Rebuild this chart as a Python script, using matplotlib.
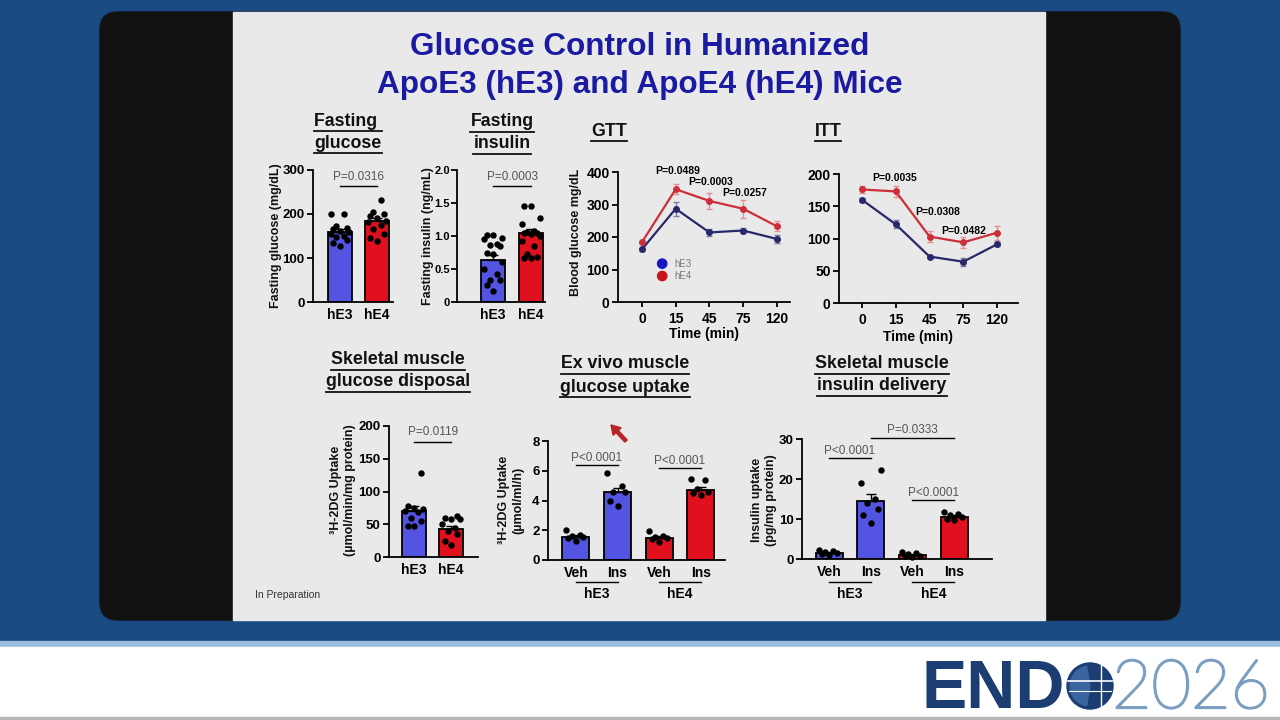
import numpy as np
import matplotlib
matplotlib.use("Agg")
import matplotlib.pyplot as plt
import matplotlib.patheffects as pe
from matplotlib.patches import FancyBboxPatch, Rectangle, Circle, Wedge

plt.rcParams['font.family'] = ['Liberation Sans', 'DejaVu Sans']
plt.rcParams['font.weight'] = 'bold'

W, H = 1280, 720

# ---- data ----
geno = ["hE3", "hE4"]
treat = ["Veh", "Ins", "Veh", "Ins"]
times = ["0", "15", "45", "75", "120"]

fg_mean = [160, 183]
fg_sem = [6, 8]
fg_hE3 = [200, 200, 172, 168, 165, 162, 158, 155, 150, 148, 140, 135, 128]
fg_hE4 = [232, 205, 200, 195, 190, 185, 182, 175, 165, 155, 145, 138]

fi_mean = [0.64, 1.05]
fi_sem = [0.07, 0.05]
fi_hE3 = [1.02, 0.97, 0.96, 1.01, 0.87, 0.85, 0.88, 0.75, 0.72, 0.60, 0.50, 0.42, 0.34, 0.33, 0.26, 0.16]
fi_hE4 = [1.46, 1.45, 1.28, 1.18, 1.08, 1.06, 1.05, 1.04, 1.03, 1.00, 0.93, 0.85, 0.72, 0.68, 0.67, 0.66]

gtt_hE3 = [162, 287, 214, 220, 194]
gtt_hE3_sem = [5, 22, 10, 8, 12]
gtt_hE4 = [184, 347, 311, 287, 233]
gtt_hE4_sem = [5, 15, 25, 27, 15]
gtt_p = ["P=0.0489", "P=0.0003", "P=0.0257"]

itt_hE3 = [160, 122, 72, 64, 91]
itt_hE3_sem = [3, 6, 3, 6, 3]
itt_hE4 = [176, 173, 103, 94, 109]
itt_hE4_sem = [6, 9, 8, 8, 11]
itt_p = ["P=0.0035", "P=0.0308", "P=0.0482"]

gd_mean = [70, 43]
gd_sem = [8, 5]
gd_hE3 = [128, 78, 75, 73, 70, 68, 60, 55, 48, 47]
gd_hE4 = [62, 60, 58, 58, 50, 45, 40, 35, 25, 18]

ev_mean = [1.55, 4.55, 1.5, 4.7]
ev_sem = [0.1, 0.3, 0.08, 0.2]
ev_pts = [[2.05, 1.65, 1.6, 1.55, 1.5, 1.3],
          [5.85, 4.95, 4.6, 4.55, 4.0, 3.65],
          [1.95, 1.6, 1.55, 1.5, 1.4, 1.2],
          [5.45, 5.4, 4.75, 4.6, 4.5, 4.4]]

id_mean = [1.5, 14.5, 1.0, 10.5]
id_sem = [0.2, 1.8, 0.2, 0.4]
id_pts = [[2.2, 2.0, 1.8, 1.5, 1.2, 1.0],
          [22.2, 19.0, 15.0, 14.0, 12.5, 11.0, 9.0],
          [1.8, 1.5, 1.2, 0.8, 0.7, 0.5],
          [11.7, 11.3, 11.0, 10.5, 10.0, 9.8]]

BLUE = "#5454e2"
RED = "#e0101e"
NAVY = "#28286a"
REDL = "#cc2f3a"
PGRAY = "#555555"

fig = plt.figure(figsize=(12.8, 7.2), dpi=100)
bg = fig.add_axes([0, 0, 1, 1], zorder=0)
bg.set_xlim(0, W)
bg.set_ylim(H, 0)
bg.axis('off')

# slide frame
bg.add_patch(Rectangle((0, 0), W, 641, color='#194a82'))
bg.add_patch(Rectangle((0, 641), W, 6, color='#9dbde0'))
bg.add_patch(Rectangle((0, 647), W, 73, color='white'))
bg.add_patch(Rectangle((0, 717), W, 3, color='#b5b5b5'))
bg.add_patch(FancyBboxPatch((100, 12), 1080, 608, boxstyle='round,pad=0,rounding_size=18',
                            color='#111111'))
bg.add_patch(Rectangle((233, 12), 812, 608, color='#e9e9e9'))

bg.text(640, 47, "Glucose Control in Humanized", ha='center', va='center',
        fontsize=22.7, color='#1a1aa2')
bg.text(640, 85, "ApoE3 (hE3) and ApoE4 (hE4) Mice", ha='center', va='center',
        fontsize=22.7, color='#1a1aa2')

titles = [("Fasting ", 348, 121), ("glucose", 348, 143),
          ("Fasting", 502, 122), ("insulin", 502, 144),
          ("GTT", 609, 131), ("ITT", 828, 131),
          ("Skeletal muscle", 398, 360), ("glucose disposal", 398, 382),
          ("Ex vivo muscle", 625, 364), ("glucose uptake", 625, 387),
          ("Skeletal muscle", 882, 364), ("insulin delivery", 882, 386)]
title_objs = [bg.text(x, y, s, ha='center', va='center', fontsize=12.8, color='#111111')
              for s, x, y in titles]

ylabels = [("Fasting glucose (mg/dL)", 276, 236), ("Fasting insulin (ng/mL)", 428, 236),
           ("Blood glucose mg/dL", 576, 232),
           ("³H-2DG Uptake\n(µmol/min/mg protein)", 343, 490),
           ("³H-2DG Uptake\n(µmol/ml/h)", 511, 500),
           ("Insulin uptake\n(pg/mg protein)", 764, 500)]
for s, x, y in ylabels:
    bg.text(x, y, s, rotation=90, ha='center', va='center', fontsize=9, color='#111111',
            linespacing=1.25)

bg.text(704, 334, "Time (min)", ha='center', va='center', fontsize=10)
bg.text(918, 337, "Time (min)", ha='center', va='center', fontsize=10)
bg.text(255, 595, "In Preparation", ha='left', va='center', fontsize=7.5,
        weight='normal', color='#333333')

# mouse pointer
bg.arrow(626, 441, -15, -16, width=3.2, head_width=11, head_length=9,
         length_includes_head=True, color='#b8232a', zorder=5)

# logo
bg.text(922, 708, "END", fontsize=49, color='#1b3d72', ha='left', va='baseline')
bg.add_patch(Circle((1090, 686), 23, color='#1b3d72'))
bg.add_patch(Wedge((1090, 686), 20, 100, 260, color='#3a65a0'))
bg.plot([1068, 1112], [681, 681], color='white', lw=1.2)
bg.plot([1069, 1111], [691, 691], color='white', lw=0.8)
bg.plot([1101, 1101], [665, 707], color='white', lw=1.0)
bg.text(1112, 708, "2026", fontsize=49, color='#7b9fc2', ha='left', va='baseline',
        family=['Lato', 'DejaVu Sans'], weight='light',
        path_effects=[pe.withStroke(linewidth=1.6, foreground='#7b9fc2')])


def panel(box, tsize=9.5):
    l, t, r, b = box
    ax = fig.add_axes([l / W, 1 - b / H, (r - l) / W, (b - t) / H], zorder=2)
    ax.patch.set_visible(False)
    for s in ['top', 'right']:
        ax.spines[s].set_visible(False)
    for s in ['left', 'bottom']:
        ax.spines[s].set_linewidth(1.3)
    ax.tick_params(width=1.3, length=4, labelsize=tsize, pad=2)
    ax.tick_params(axis='x', length=0, pad=4)
    return ax


def spread(vals, halfw):
    order = np.argsort(vals)
    offs = np.zeros(len(vals))
    pattern = [0, -0.55, 0.55, -0.3, 0.3, -0.75, 0.75]
    for rank, idx in enumerate(order):
        offs[idx] = pattern[rank % len(pattern)] * halfw
    return offs


def bars(ax, means, sems, points, colors, width):
    x = np.arange(len(means))
    ax.bar(x, means, width=width, color=colors, edgecolor='black', linewidth=1.3, zorder=2)
    ax.errorbar(x, means, yerr=[np.zeros(len(sems)), sems], fmt='none', ecolor='black',
                elinewidth=1, capsize=3.5, capthick=1, zorder=3)
    for xi, pts in zip(x, points):
        pts = np.array(pts)
        ax.scatter(xi + spread(pts, width / 2), pts, s=13, color='black', zorder=4,
                   clip_on=False)


def pbar(ax, x0, x1, yline, ytext, label):
    ax.plot([x0, x1], [yline, yline], color='black', lw=1, clip_on=False)
    ax.text((x0 + x1) / 2, ytext, label, ha='center', va='center', fontsize=8.5,
            weight='normal', color=PGRAY, clip_on=False)


def group_labels(ax, box):
    l, t, r, b = box
    yl = (b - 582) / (b - t)
    yt = (b - 594) / (b - t)
    tr = ax.get_xaxis_transform()
    for x0, name in [(0, "hE3"), (2, "hE4")]:
        ax.plot([x0, x0 + 1], [yl, yl], color='black', lw=1, transform=tr, clip_on=False)
        ax.text(x0 + 0.5, yt, name, ha='center', va='center', fontsize=10, transform=tr)


# fasting glucose
ax1 = panel((313, 170, 393, 302))
bars(ax1, fg_mean, fg_sem, [fg_hE3, fg_hE4], [BLUE, RED], 0.66)
ax1.set_xlim(-0.73, 1.43)
ax1.set_ylim(0, 300)
ax1.set_yticks([0, 100, 200, 300])
ax1.set_xticks([0, 1], geno, fontsize=10)
pbar(ax1, 0, 1, 264, 284, "P=0.0316")

# fasting insulin
ax2 = panel((457, 170, 545, 302), tsize=8)
bars(ax2, fi_mean, fi_sem, [fi_hE3, fi_hE4], [BLUE, RED], 0.62)
ax2.set_xlim(-0.95, 1.37)
ax2.set_ylim(0, 2)
ax2.set_yticks([0, 0.5, 1, 1.5, 2], ["0", "0.5", "1.0", "1.5", "2.0"])
ax2.tick_params(axis='y', pad=1)
ax2.set_xticks([0, 1], geno, fontsize=10)
pbar(ax2, 0, 1, 1.76, 1.89, "P=0.0003")


def curves(ax, m3, s3, m4, s4):
    x = np.arange(len(times))
    ax.errorbar(x, m3, yerr=s3, color=NAVY, ecolor='#7a7aa6', lw=1.6, elinewidth=1,
                capsize=2.5, marker='o', ms=4, zorder=3)
    ax.errorbar(x, m4, yerr=s4, color=REDL, ecolor='#e39096', lw=1.6, elinewidth=1,
                capsize=2.5, marker='o', ms=4, zorder=3)
    ax.set_xticks(x, times, fontsize=10)
    ax.tick_params(axis='x', length=3.5, width=1.3, pad=4)


# GTT
ax3 = panel((618, 172, 790, 302), tsize=10)
curves(ax3, gtt_hE3, gtt_hE3_sem, gtt_hE4, gtt_hE4_sem)
ax3.set_xlim(-0.71, 4.39)
ax3.set_ylim(0, 400)
ax3.set_yticks([0, 100, 200, 300, 400])
for lbl, (px, py) in zip(gtt_p, [(1.07, 403), (2.04, 369), (3.05, 335)]):
    ax3.text(px, py, lbl, ha='center', va='center', fontsize=7.5, clip_on=False)
ax3.scatter([0.6, 0.6], [118, 80], s=45, color=['#1616c4', '#c8141e'], zorder=4)
ax3.text(0.95, 118, "hE3", ha='left', va='center', fontsize=7, weight='normal', color='#777777')
ax3.text(0.95, 80, "hE4", ha='left', va='center', fontsize=7, weight='normal', color='#777777')

# ITT
ax4 = panel((839, 174, 1018, 303), tsize=10)
curves(ax4, itt_hE3, itt_hE3_sem, itt_hE4, itt_hE4_sem)
ax4.set_xlim(-0.68, 4.62)
ax4.set_ylim(0, 200)
ax4.set_yticks([0, 50, 100, 150, 200])
for lbl, (px, py) in zip(itt_p, [(0.98, 194), (2.25, 141), (3.02, 112)]):
    ax4.text(px, py, lbl, ha='center', va='center', fontsize=7.5, clip_on=False)

# glucose disposal
ax5 = panel((389, 426, 478, 557))
bars(ax5, gd_mean, gd_sem, [gd_hE3, gd_hE4], [BLUE, RED], 0.63)
ax5.set_xlim(-0.68, 1.73)
ax5.set_ylim(0, 200)
ax5.set_yticks([0, 50, 100, 150, 200])
ax5.set_xticks([0, 1], geno, fontsize=10)
pbar(ax5, 0, 1, 176, 191, "P=0.0119")

# ex vivo uptake
box6 = (548, 441, 725, 560)
ax6 = panel(box6)
bars(ax6, ev_mean, ev_sem, ev_pts, [BLUE, BLUE, RED, RED], 0.65)
ax6.set_xlim(-0.67, 3.58)
ax6.set_ylim(0, 8)
ax6.set_yticks([0, 2, 4, 6, 8])
ax6.set_xticks(range(4), treat, fontsize=10)
pbar(ax6, 0, 1, 6.39, 6.86, "P<0.0001")
pbar(ax6, 2, 3, 6.18, 6.66, "P<0.0001")
group_labels(ax6, box6)

# insulin delivery
box7 = (802, 439, 992, 559)
ax7 = panel(box7)
bars(ax7, id_mean, id_sem, id_pts, [BLUE, BLUE, RED, RED], 0.65)
ax7.set_xlim(-0.65, 3.91)
ax7.set_ylim(0, 30)
ax7.set_yticks([0, 10, 20, 30])
ax7.set_xticks(range(4), treat, fontsize=10)
pbar(ax7, 0, 1, 25.25, 27.0, "P<0.0001")
pbar(ax7, 1, 3, 30.25, 32.25, "P=0.0333")
pbar(ax7, 2, 3, 14.75, 16.5, "P<0.0001")
group_labels(ax7, box7)

# underline panel titles
fig.canvas.draw()
rend = fig.canvas.get_renderer()
inv = bg.transData.inverted()
for t in title_objs:
    bb = t.get_window_extent(rend)
    (x0, y0), (x1, _) = inv.transform([[bb.x0, bb.y0], [bb.x1, bb.y1]])
    bg.plot([x0, x1], [y0 + 1, y0 + 1], color='#111111', lw=1.3)

fig.savefig("out.png", dpi=100)
